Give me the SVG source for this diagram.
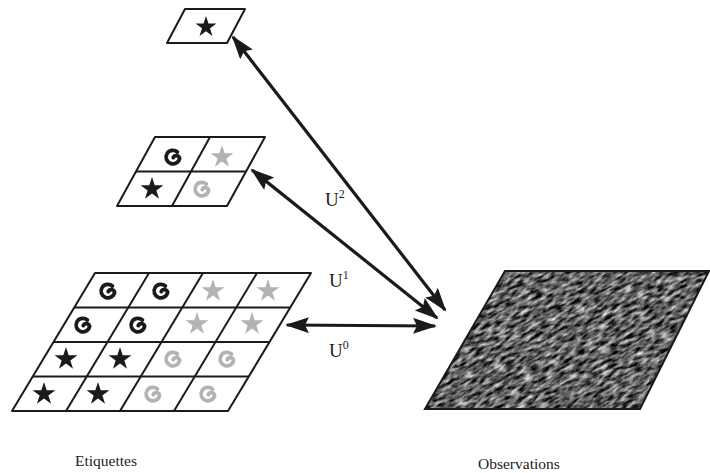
<svg xmlns="http://www.w3.org/2000/svg" width="710" height="473" viewBox="0 0 710 473">
<style>
.grid{fill:#fff;stroke:#1a1a1a;stroke-width:2;stroke-linejoin:round}
.ln{stroke:#1a1a1a;stroke-width:2;fill:none}
.conn{stroke:#1a1a1a;stroke-width:3.2;fill:none}
.lbl{font-family:"Liberation Serif","Times New Roman",serif;fill:#222}
.blk{fill:#1a1a1a}
.gry{fill:#b3b3b3}
.gb{stroke:#1a1a1a}
.gg{stroke:#b3b3b3}
</style>
<defs>
<path id="star" d="M0,-10 L2.245,-3.09 L9.511,-3.09 L3.633,1.18 L5.878,8.09 L0,3.82 L-5.878,8.09 L-3.633,1.18 L-9.511,-3.09 L-2.245,-3.09 Z"/>
<path id="spiral" d="M4.4,-5.0 A6.8 6.8 0 1 0 6.6,1.2 A3.4 3.4 0 0 0 0.2,0.6" fill="none" stroke-width="3.8" stroke-linecap="round"/>
<marker id="ah" markerUnits="userSpaceOnUse" markerWidth="26" markerHeight="18" refX="22" refY="8" orient="auto-start-reverse">
<path d="M0,0 L24,8 L0,16 L4,8 Z" fill="#1a1a1a"/>
</marker>
<filter id="noise" x="0" y="0" width="100%" height="100%" color-interpolation-filters="sRGB">
<feTurbulence type="fractalNoise" baseFrequency="0.1 0.3" numOctaves="4" seed="7" result="t"/>
<feColorMatrix in="t" type="matrix" values="1.6 0 0 0 -0.42  1.6 0 0 0 -0.42  1.6 0 0 0 -0.42  0 0 0 0 1"/>
</filter>
<clipPath id="obsclip"><polygon points="505,271 709,271 640,409 425,409"/></clipPath>
</defs>

<g id="node-top">
<polygon class="grid" points="185,9 245,9 227,43 167,43"/>
<use href="#star" class="blk" transform="translate(206,27) scale(1.1)"/>
</g>

<g id="node-mid">
<polygon class="grid" points="155,137 265,137 227,206 117,206"/>
<line class="ln" x1="136" y1="171.5" x2="246" y2="171.5"/>
<line class="ln" x1="210" y1="137" x2="172" y2="206"/>
<use href="#spiral" class="gb" transform="translate(173,157)"/>
<use href="#star" class="gry" transform="translate(222,157) scale(1.2)"/>
<use href="#star" class="blk" transform="translate(152,189) scale(1.2)"/>
<use href="#spiral" class="gg" transform="translate(202,189)"/>
</g>

<g id="node-grid">
<polygon class="grid" points="95,273 311,273 228,411 12,411"/>
<line class="ln" x1="74.25" y1="307.5" x2="290.25" y2="307.5"/>
<line class="ln" x1="53.5" y1="342" x2="269.5" y2="342"/>
<line class="ln" x1="32.75" y1="376.5" x2="248.75" y2="376.5"/>
<line class="ln" x1="149" y1="273" x2="66" y2="411"/>
<line class="ln" x1="203" y1="273" x2="120" y2="411"/>
<line class="ln" x1="257" y1="273" x2="174" y2="411"/>
<use href="#spiral" class="gb" transform="translate(108,291)"/>
<use href="#spiral" class="gb" transform="translate(161,291)"/>
<use href="#star" class="gry" transform="translate(213,291) scale(1.2)"/>
<use href="#star" class="gry" transform="translate(268,291) scale(1.2)"/>
<use href="#spiral" class="gb" transform="translate(83,325)"/>
<use href="#spiral" class="gb" transform="translate(138,325)"/>
<use href="#star" class="gry" transform="translate(197,324) scale(1.2)"/>
<use href="#star" class="gry" transform="translate(252,324) scale(1.2)"/>
<use href="#star" class="blk" transform="translate(66,359) scale(1.2)"/>
<use href="#star" class="blk" transform="translate(120,359) scale(1.2)"/>
<use href="#spiral" class="gg" transform="translate(173,359)"/>
<use href="#spiral" class="gg" transform="translate(227,359)"/>
<use href="#star" class="blk" transform="translate(44,394) scale(1.2)"/>
<use href="#star" class="blk" transform="translate(98,394) scale(1.2)"/>
<use href="#spiral" class="gg" transform="translate(153,394)"/>
<use href="#spiral" class="gg" transform="translate(208,394)"/>
</g>

<g id="node-obs">
<g clip-path="url(#obsclip)">
<rect x="367" y="170" width="400" height="340" filter="url(#noise)" transform="rotate(-30 567 340)"/>
</g>
<polygon points="505,271 709,271 640,409 425,409" fill="none" stroke="#1a1a1a" stroke-width="2"/>
</g>

<g id="connectors">
<line class="conn" x1="233" y1="37" x2="445" y2="310" marker-start="url(#ah)" marker-end="url(#ah)"/>
<line class="conn" x1="252" y1="170" x2="437" y2="318" marker-start="url(#ah)" marker-end="url(#ah)"/>
<line class="conn" x1="287" y1="325" x2="435" y2="326" marker-start="url(#ah)" marker-end="url(#ah)"/>
</g>

<g id="labels">
<text class="lbl" x="325" y="206" font-size="19">U<tspan font-size="12" dy="-8">2</tspan></text>
<text class="lbl" x="329" y="287" font-size="19">U<tspan font-size="12" dy="-8">1</tspan></text>
<text class="lbl" x="329" y="357" font-size="19">U<tspan font-size="12" dy="-8">0</tspan></text>
<text class="lbl" x="75" y="466" font-size="15.5">Etiquettes</text>
<text class="lbl" x="478" y="469" font-size="15.5">Observations</text>
</g>
</svg>
